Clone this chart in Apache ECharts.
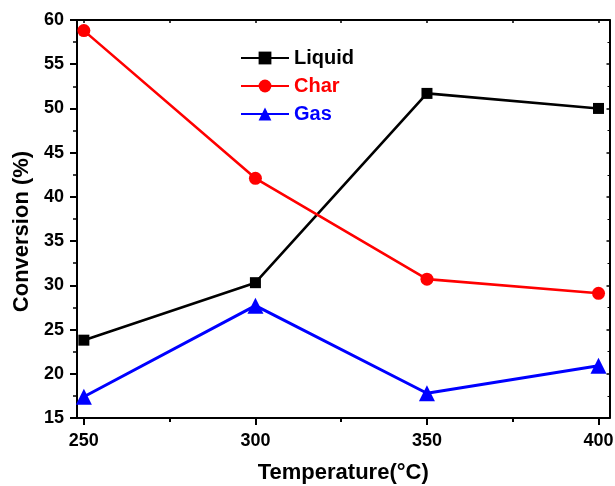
<!DOCTYPE html>
<html>
<head>
<meta charset="utf-8">
<script src="https://cdn.jsdelivr.net/npm/echarts@6/dist/echarts.min.js"></script>
<style>html,body{margin:0;padding:0;background:#fff}#c{width:615px;height:486px}</style>
</head>
<body>
<div id="c"></div>
<script>
var temperatures = [250, 300, 350, 400];
var liquid = [23.8, 30.3, 51.7, 50.0];
var charV = [58.8, 42.1, 30.7, 29.1];
var gas = [17.4, 27.7, 17.8, 20.9];
var xMajorTicks = [250, 300, 350, 400];
var xMinorTicks = [275, 325, 375];
var xAllTicks = [250, 275, 300, 325, 350, 375, 400];

function pairs(xs, ys) { return xs.map(function (x, i) { return [x, ys[i]]; }); }

var font = 'Arial, "Liberation Sans", sans-serif';
var chart = echarts.init(document.getElementById('c'), null, {renderer: 'canvas'});
var lineW = 2.6;
var xMin = 248, xMax = 403.2;

chart.setOption({
  animation: false,
  backgroundColor: '#fff',
  grid: {left: 77, right: 5.5, top: 20, bottom: 68, containLabel: false, outerBoundsMode: 'none'},
  legend: {
    orient: 'vertical', left: 235, top: 43,
    itemWidth: 48, itemHeight: 16, itemGap: 8,
    textStyle: {fontFamily: font, fontWeight: 'bold', fontSize: 20},
    data: [
      {name: 'Liquid', textStyle: {color: '#000'}},
      {name: 'Char', textStyle: {color: '#ff0000'}},
      {name: 'Gas', textStyle: {color: '#0000ff'}}
    ]
  },
  xAxis: [
    {
      type: 'value', min: xMin, max: xMax, position: 'bottom',
      name: 'Temperature(°C)', nameLocation: 'middle', nameGap: 44,
      nameTextStyle: {fontFamily: font, fontWeight: 'bold', fontSize: 22, color: '#000'},
      axisLine: {onZero: false, lineStyle: {color: '#000', width: 2}},
      axisTick: {show: true, inside: false, length: 7, customValues: xMajorTicks, lineStyle: {color: '#000', width: 2}},
      axisLabel: {customValues: xMajorTicks, margin: 14, fontFamily: font, fontWeight: 'bold', fontSize: 18, color: '#000'},
      splitLine: {show: false}
    },
    {
      type: 'value', min: xMin, max: xMax, position: 'bottom',
      axisLine: {show: false, onZero: false},
      axisTick: {show: true, inside: false, length: 4, customValues: xMinorTicks, lineStyle: {color: '#000', width: 2}},
      axisLabel: {show: false}, splitLine: {show: false}
    },
    {
      type: 'value', min: xMin, max: xMax, position: 'top',
      axisLine: {onZero: false, lineStyle: {color: '#000', width: 2}},
      axisTick: {show: true, inside: true, length: 3, customValues: xAllTicks, lineStyle: {color: '#000', width: 1.5}},
      axisLabel: {show: false}, splitLine: {show: false}
    }
  ],
  yAxis: [
    {
      type: 'value', min: 15, max: 60, interval: 5, position: 'left',
      name: 'Conversion (%)', nameLocation: 'middle', nameGap: 44, nameRotate: 90,
      nameTextStyle: {fontFamily: font, fontWeight: 'bold', fontSize: 22, color: '#000', padding: [0, 25, 0, 0]},
      axisLine: {show: true, onZero: false, lineStyle: {color: '#000', width: 2}},
      axisTick: {show: true, inside: false, length: 7, lineStyle: {color: '#000', width: 2}},
      minorTick: {show: true, splitNumber: 2, length: 4, lineStyle: {color: '#000', width: 1.5}},
      axisLabel: {margin: 13, fontFamily: font, fontWeight: 'bold', fontSize: 18, color: '#000'},
      splitLine: {show: false}, minorSplitLine: {show: false}
    },
    {
      type: 'value', min: 15, max: 60, interval: 5, position: 'right',
      axisLine: {show: true, onZero: false, lineStyle: {color: '#000', width: 2}},
      axisTick: {show: true, inside: true, length: 3, lineStyle: {color: '#000', width: 1.5}},
      minorTick: {show: true, splitNumber: 2, length: 2, lineStyle: {color: '#000', width: 1}},
      axisLabel: {show: false}, splitLine: {show: false}
    }
  ],
  series: [
    {
      name: 'Liquid', type: 'line', data: pairs(temperatures, liquid),
      symbol: 'rect', symbolSize: 11, color: '#000',
      lineStyle: {color: '#000', width: lineW}, itemStyle: {color: '#000'}
    },
    {
      name: 'Char', type: 'line', data: pairs(temperatures, charV),
      symbol: 'circle', symbolSize: 13, color: '#ff0000',
      lineStyle: {color: '#ff0000', width: lineW}, itemStyle: {color: '#ff0000'}
    },
    {
      name: 'Gas', type: 'line', data: pairs(temperatures, gas),
      symbol: 'triangle', symbolSize: 16, color: '#0000ff',
      lineStyle: {color: '#0000ff', width: 3}, itemStyle: {color: '#0000ff'}
    }
  ]
});
</script>
</body>
</html>
